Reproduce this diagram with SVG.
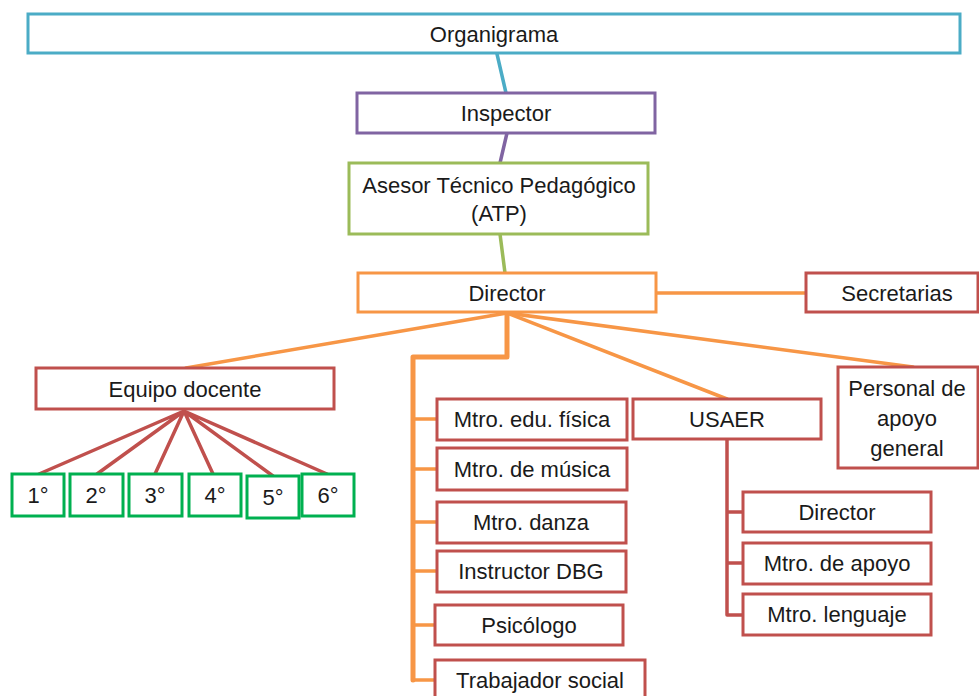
<svg xmlns="http://www.w3.org/2000/svg" width="979" height="696" viewBox="0 0 979 696">
<style>
.b{fill:#fff;stroke-width:3}
.t{font-family:"Liberation Sans",Arial,sans-serif;font-size:22px;fill:#1a1a1a;text-anchor:middle}
.c{fill:none;stroke-width:3.5;stroke-linecap:round;stroke-linejoin:round}
.blue{stroke:#4BACC6}.pur{stroke:#8064A2}.grn{stroke:#9BBB59}.org{stroke:#F79646}.red{stroke:#C0504D}.gg{stroke:#00B050}
</style>
<rect width="979" height="696" fill="#fff"/>
<g id="connectors">
<line class="c blue" x1="497" y1="54" x2="506" y2="93"/>
<line class="c pur" x1="507" y1="133" x2="500" y2="163"/>
<line class="c grn" x1="500" y1="234" x2="505" y2="273"/>
<line class="c org" x1="656" y1="293" x2="806" y2="293"/>
<line class="c org" x1="507" y1="313" x2="186" y2="368"/>
<line class="c org" x1="507" y1="313" x2="727" y2="399"/>
<line class="c org" x1="507" y1="313" x2="913" y2="367"/>
<path class="c org" style="stroke-width:5" d="M507 313 V357 H413 V680"/>
<path class="c org" d="M413 419 H437 M413 469 H437 M413 522 H437 M413 571 H437 M413 625 H435 M413 680 H435"/>
<path class="c red" d="M727 439 V615 M727 512 H743 M727 563 H743 M727 615 H743"/>
<path class="c red" d="M184 411 L39 474 M184 411 L97 474 M184 411 L155 474 M184 411 L213 474 M184 411 L273 476 M184 411 L327 474"/>
</g>
<g id="n-organigrama"><rect class="b blue" x="28" y="14" width="932" height="39"/><text class="t" x="494" y="42">Organigrama</text></g>
<g id="n-inspector"><rect class="b pur" x="357" y="93" width="298" height="40"/><text class="t" x="506" y="121">Inspector</text></g>
<g id="n-atp"><rect class="b grn" x="349" y="163" width="299" height="71"/><text class="t" x="499" y="193">Asesor Técnico Pedagógico</text><text class="t" x="499" y="221">(ATP)</text></g>
<g id="n-director"><rect class="b org" x="358" y="273" width="298" height="39"/><text class="t" x="507" y="301">Director</text></g>
<g id="n-secretarias"><rect class="b red" x="806" y="273" width="172" height="39"/><text class="t" x="897" y="301">Secretarias</text></g>
<g id="n-equipo"><rect class="b red" x="36" y="368" width="298" height="41"/><text class="t" x="185" y="397">Equipo docente</text></g>
<g id="n-g1"><rect class="b gg" x="12" y="474" width="52" height="42"/><text class="t" x="38" y="503">1°</text></g>
<g id="n-g2"><rect class="b gg" x="70" y="474" width="53" height="42"/><text class="t" x="96" y="503">2°</text></g>
<g id="n-g3"><rect class="b gg" x="129" y="474" width="53" height="42"/><text class="t" x="155" y="503">3°</text></g>
<g id="n-g4"><rect class="b gg" x="189" y="474" width="52" height="42"/><text class="t" x="215" y="503">4°</text></g>
<g id="n-g5"><rect class="b gg" x="247" y="476" width="52" height="42"/><text class="t" x="273" y="505">5°</text></g>
<g id="n-g6"><rect class="b gg" x="302" y="474" width="52" height="42"/><text class="t" x="328" y="503">6°</text></g>
<g id="n-edufisica"><rect class="b red" x="437" y="399" width="190" height="41"/><text class="t" x="532" y="427">Mtro. edu. física</text></g>
<g id="n-musica"><rect class="b red" x="437" y="448" width="190" height="42"/><text class="t" x="532" y="477">Mtro. de música</text></g>
<g id="n-danza"><rect class="b red" x="437" y="502" width="189" height="41"/><text class="t" x="531" y="530">Mtro. danza</text></g>
<g id="n-dbg"><rect class="b red" x="437" y="551" width="189" height="41"/><text class="t" x="531" y="579">Instructor DBG</text></g>
<g id="n-psicologo"><rect class="b red" x="435" y="605" width="188" height="40"/><text class="t" x="529" y="633">Psicólogo</text></g>
<g id="n-trabajador"><rect class="b red" x="435" y="660" width="210" height="42"/><text class="t" x="540" y="688">Trabajador social</text></g>
<g id="n-usaer"><rect class="b red" x="633" y="399" width="188" height="40"/><text class="t" x="727" y="427">USAER</text></g>
<g id="n-personal"><rect class="b red" x="838" y="367" width="140" height="101"/><text class="t" x="907" y="396">Personal de</text><text class="t" x="907" y="426">apoyo</text><text class="t" x="907" y="456">general</text></g>
<g id="n-udirector"><rect class="b red" x="743" y="492" width="188" height="40"/><text class="t" x="837" y="520">Director</text></g>
<g id="n-apoyo"><rect class="b red" x="743" y="543" width="188" height="41"/><text class="t" x="837" y="571">Mtro. de apoyo</text></g>
<g id="n-lenguaje"><rect class="b red" x="743" y="594" width="188" height="41"/><text class="t" x="837" y="622">Mtro. lenguaje</text></g>
</svg>
